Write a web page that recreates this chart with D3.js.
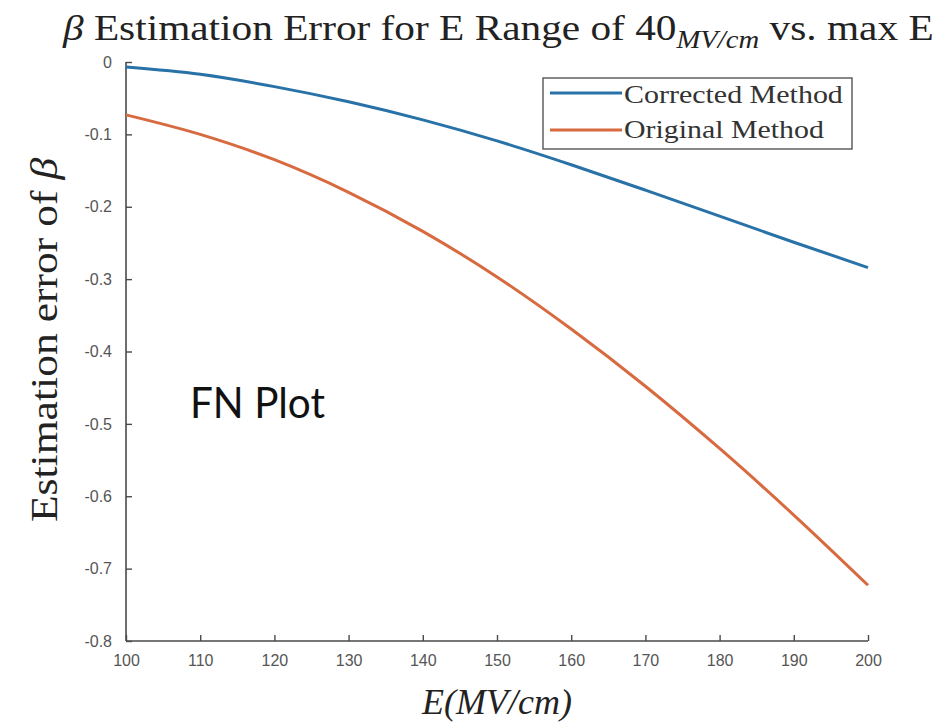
<!DOCTYPE html>
<html>
<head>
<meta charset="utf-8">
<script src="https://cdn.jsdelivr.net/npm/d3@7"></script>
<style>
  html, body { margin: 0; padding: 0; background: #fff; }
  svg { display: block; }
</style>
</head>
<body>
<svg id="chart" width="940" height="727"></svg>
<script>
// ---------- data ----------
const fieldE = [100, 110, 120, 130, 140, 150, 160, 170, 180, 190, 200];
const correctedMethod = [-0.007, -0.017, -0.034, -0.055, -0.080, -0.109, -0.142, -0.177, -0.213, -0.249, -0.284];
const originalMethod  = [-0.073, -0.100, -0.135, -0.180, -0.234, -0.297, -0.369, -0.448, -0.534, -0.626, -0.723];
const seriesNames = ["Corrected Method", "Original Method"];
const xTicks = [100, 110, 120, 130, 140, 150, 160, 170, 180, 190, 200];
const yTicks = [0, -0.1, -0.2, -0.3, -0.4, -0.5, -0.6, -0.7, -0.8];
const yTickLabels = ["0", "-0.1", "-0.2", "-0.3", "-0.4", "-0.5", "-0.6", "-0.7", "-0.8"];

(function () {
// ---------- layout ----------
const svg = d3.select("#chart");
const pLeft = 126, pRight = 868, pTop = 62, pBottom = 641;
const x = d3.scaleLinear().domain([100, 200]).range([pLeft, pRight]);
const y = d3.scaleLinear().domain([-0.8, 0]).range([pBottom, pTop]);
const colors = ["#2872a8", "#d86a40"];
const serif = "'Liberation Serif', 'Times New Roman', serif";
const axisColor = "#4a4a4a";

// helper: squeeze/stretch a text horizontally to a target width
function fitWidth(sel, target, anchorX) {
  const w = sel.node().getBBox().width;
  const s = target / w;
  sel.attr("transform", `translate(${anchorX},0) scale(${s},1) translate(${-anchorX},0)`);
}

// ---------- axes ----------
const xAxis = d3.axisBottom(x).tickValues(xTicks).tickSize(-6).tickPadding(14)
  .tickFormat(d3.format("d"));
const gx = svg.append("g").attr("transform", `translate(0,${pBottom})`).call(xAxis);

const yAxis = d3.axisLeft(y).tickValues(yTicks).tickSize(-6).tickPadding(14)
  .tickFormat((d, i) => yTickLabels[i]);
const gy = svg.append("g").attr("transform", `translate(${pLeft},0)`).call(yAxis);

[gx, gy].forEach(g => {
  g.select(".domain").attr("stroke", axisColor).attr("stroke-width", 1.6);
  g.selectAll(".tick line").attr("stroke", axisColor).attr("stroke-width", 1.4);
  g.selectAll(".tick text").attr("fill", "#555")
    .style("font-family", "'Liberation Sans', Arial, sans-serif").style("font-size", "16px");
});
gx.select(".domain").attr("d", `M${pLeft},0H${pRight}`);
gy.select(".domain").attr("d", `M0,${pBottom}V${pTop}`);

// ---------- lines ----------
const line = d3.line().x(d => x(d[0])).y(d => y(d[1])).curve(d3.curveMonotoneX);
[correctedMethod, originalMethod].forEach((vals, i) => {
  svg.append("path")
    .datum(fieldE.map((e, j) => [e, vals[j]]))
    .attr("fill", "none")
    .attr("stroke", colors[i])
    .attr("stroke-width", 3)
    .attr("stroke-linejoin", "round")
    .attr("d", line);
});

// ---------- legend ----------
const lg = svg.append("g");
lg.append("rect").attr("x", 543).attr("y", 78).attr("width", 309).attr("height", 71)
  .attr("fill", "#fff").attr("stroke", "#555").attr("stroke-width", 1.4);
const legendRows = [{ly: 93, ty: 103, w: 219}, {ly: 130, ty: 138, w: 200}];
seriesNames.forEach((name, i) => {
  lg.append("line").attr("x1", 550).attr("x2", 622)
    .attr("y1", legendRows[i].ly).attr("y2", legendRows[i].ly)
    .attr("stroke", colors[i]).attr("stroke-width", 3);
  const t = lg.append("text").attr("x", 624).attr("y", legendRows[i].ty)
    .style("font-family", serif).style("font-size", "26px").attr("fill", "#333")
    .text(name);
  fitWidth(t, legendRows[i].w, 624);
});

// ---------- title ----------
const title = svg.append("text").attr("x", 63).attr("y", 40)
  .style("font-family", serif).style("font-size", "36px").attr("fill", "#222");
title.append("tspan").style("font-style", "italic").text("β");
title.append("tspan").text(" Estimation Error for E Range of 40");
title.append("tspan").style("font-style", "italic").style("font-size", "25px")
  .attr("dy", 8).text("MV/cm");
title.append("tspan").attr("dy", -8).text(" vs. max E");
fitWidth(title, 872, 63);

// ---------- axis labels ----------
svg.append("text").attr("x", 497).attr("y", 714).attr("text-anchor", "middle")
  .style("font-family", serif).style("font-size", "36px").style("font-style", "italic")
  .attr("fill", "#222").text("E(MV/cm)");

// y label: drawn horizontally in a rotated group, stretched to the reference length
const ylg = svg.append("g").attr("transform", "translate(57,340) rotate(-90)");
const yl = ylg.append("text").attr("x", 0).attr("y", 0)
  .attr("text-anchor", "middle")
  .style("font-family", serif).style("font-size", "37px").attr("fill", "#222");
yl.append("tspan").text("Estimation error of ");
yl.append("tspan").style("font-style", "italic").text("β");
fitWidth(yl, 365, 0);

// ---------- annotation ----------
const fn = svg.append("text").attr("x", 190).attr("y", 418)
  .style("font-family", "Lato, 'Open Sans', sans-serif").style("font-size", "42px")
  .attr("fill", "#111").text("FN Plot");
fitWidth(fn, 135, 190);
})();
</script>
</body>
</html>
